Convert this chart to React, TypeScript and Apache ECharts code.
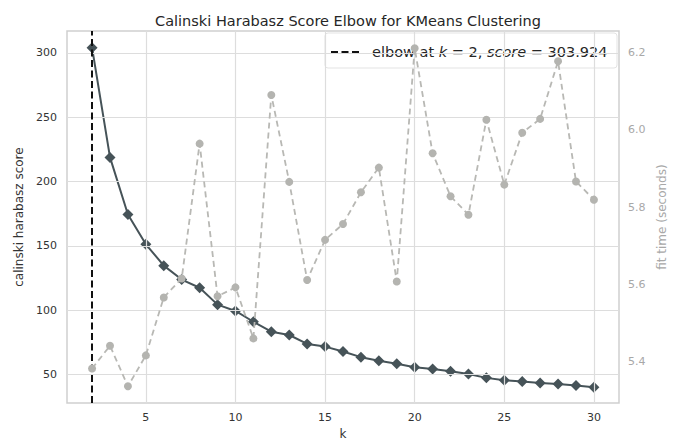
import React, { useEffect, useRef } from "react";
import * as echarts from "echarts";

const kValues = [2, 3, 4, 5, 6, 7, 8, 9, 10, 11, 12, 13, 14, 15, 16, 17, 18, 19, 20, 21, 22, 23, 24, 25, 26, 27, 28, 29, 30];
const scores = [303.924, 218.8, 174.4, 151.3, 134.7, 123.9, 117.5, 104.4, 99.5, 91.1, 83.4, 80.8, 73.9, 71.8, 68.0, 63.6, 60.8, 58.5, 55.7, 54.4, 52.6, 50.5, 47.5, 45.7, 44.7, 43.6, 42.8, 41.6, 40.3];
const fitTimes = [5.382, 5.441, 5.336, 5.416, 5.566, 5.615, 5.964, 5.569, 5.592, 5.46, 6.09, 5.865, 5.611, 5.715, 5.756, 5.838, 5.902, 5.607, 6.211, 5.939, 5.828, 5.78, 6.026, 5.858, 5.992, 6.028, 6.177, 5.866, 5.819];
const xTicks = [5, 10, 15, 20, 25, 30];
const scoreTicks = [50, 100, 150, 200, 250, 300];
const timeTicks = [5.4, 5.6, 5.8, 6.0, 6.2];
const elbowK = 2;
const elbowScore = 303.924;

const FONT = "DejaVu Sans";

export default function App() {
  const ref = useRef<HTMLDivElement>(null);
  useEffect(() => {
    document.body.style.margin = "0";
    if (!ref.current) return;
    const chart = echarts.init(ref.current, undefined, { renderer: "svg" });
    const gridLines = [
      ...xTicks.map((v) => ({ xAxis: v })),
      ...scoreTicks.map((v) => ({ yAxis: v })),
    ];
    chart.setOption({
      animation: false,
      backgroundColor: "#ffffff",
      textStyle: { fontFamily: FONT },
      title: {
        text: "Calinski Harabasz Score Elbow for KMeans Clustering",
        left: 343,
        top: 8,
        textAlign: "center",
        textStyle: { fontFamily: FONT, fontSize: 14.5, fontWeight: "normal", color: "#262626" },
      },
      grid: {
        left: 67,
        right: 59,
        top: 31,
        bottom: 37,
        show: true,
        borderColor: "#cfcfcf",
        borderWidth: 1.5,
        backgroundColor: "#ffffff",
      },
      xAxis: {
        type: "value",
        min: 0.6,
        max: 31.4,
        name: "k",
        nameLocation: "middle",
        nameGap: 24,
        nameTextStyle: { fontFamily: FONT, fontSize: 12, color: "#333333" },
        axisLine: { show: false },
        axisTick: { show: false },
        splitLine: { show: false },
        axisLabel: {
          customValues: xTicks,
          margin: 9,
          fontFamily: FONT,
          fontSize: 11,
          color: "#333333",
        },
      },
      yAxis: [
        {
          type: "value",
          min: 27.9,
          max: 317.0,
          name: "calinski harabasz score",
          nameLocation: "middle",
          nameGap: 38,
          nameTextStyle: { fontFamily: FONT, fontSize: 12, color: "#333333" },
          axisLine: { show: false },
          axisTick: { show: false },
          splitLine: { show: false },
          axisLabel: {
            customValues: scoreTicks,
            margin: 10,
            fontFamily: FONT,
            fontSize: 11,
            color: "#333333",
          },
        },
        {
          type: "value",
          min: 5.2925,
          max: 6.2555,
          position: "right",
          name: "fit time (seconds)",
          nameLocation: "middle",
          nameGap: 31,
          nameRotate: 90,
          nameTextStyle: { fontFamily: FONT, fontSize: 12, color: "#a8a8a8" },
          axisLine: { show: false },
          axisTick: { show: false },
          splitLine: { show: false },
          axisLabel: {
            customValues: timeTicks,
            margin: 9,
            fontFamily: FONT,
            fontSize: 11,
            color: "#a8a8a8",
            formatter: (v: number) => v.toFixed(1),
          },
        },
      ],
      series: [
        {
          name: "grid",
          type: "line",
          data: [],
          silent: true,
          z: 0,
          markLine: {
            silent: true,
            symbol: "none",
            label: { show: false },
            lineStyle: { color: "#dddddd", width: 1.2, type: "solid" },
            data: gridLines,
          },
        },
        {
          name: "score",
          type: "line",
          yAxisIndex: 0,
          data: kValues.map((k, i) => [k, scores[i]]),
          symbol: "diamond",
          symbolSize: 11,
          z: 2,
          lineStyle: { color: "#465358", width: 2 },
          itemStyle: { color: "#465358" },
          markLine: {
            silent: true,
            symbol: "none",
            label: { show: false },
            lineStyle: { color: "#111111", width: 2, type: [7, 3.5] },
            data: [{ xAxis: elbowK }],
          },
        },
        {
          name: "fit time",
          type: "line",
          yAxisIndex: 1,
          data: kValues.map((k, i) => [k, fitTimes[i]]),
          symbol: "circle",
          symbolSize: 8,
          z: 5,
          lineStyle: { color: "#b8b8b4", width: 1.8, type: [6, 4] },
          itemStyle: { color: "#b4b4b0" },
        },
      ],
      graphic: [
        {
          type: "group",
          z: 3,
          children: [
            {
              type: "rect",
              z: 3,
              shape: { x: 325, y: 33, width: 292, height: 35, r: 3 },
              style: { fill: "rgba(255,255,255,0.8)", stroke: "#e3e3e3", lineWidth: 1 },
            },
            {
              type: "line",
              z: 3,
              shape: { x1: 331, y1: 52, x2: 361, y2: 52 },
              style: { stroke: "#111111", lineWidth: 2, lineDash: [7, 3.5] },
            },
            {
              type: "text",
              z: 3,
              x: 372,
              y: 52,
              style: {
                text: "elbow at {i|k} = " + elbowK + ", {i|score} = " + elbowScore.toFixed(3),
                fontFamily: FONT,
                fontSize: 14.5,
                fill: "#262626",
                verticalAlign: "middle",
                rich: {
                  i: { fontFamily: FONT, fontSize: 14.5, fontStyle: "italic", fill: "#262626" },
                },
              },
            },
          ],
        },
      ],
    });
    return () => chart.dispose();
  }, []);
  return <div ref={ref} style={{ width: 678, height: 445 }} />;
}
